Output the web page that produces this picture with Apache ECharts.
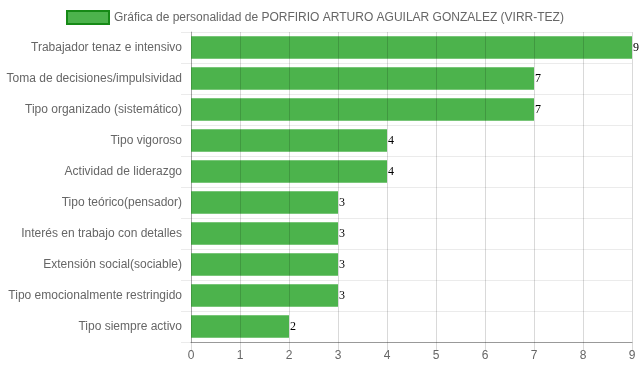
<!DOCTYPE html>
<html>
<head>
<meta charset="utf-8">
<script src="https://cdn.jsdelivr.net/npm/echarts@6/dist/echarts.min.js"></script>
<style>html,body{margin:0;padding:0;background:#fff}#c{width:639px;height:372px}</style>
</head>
<body>
<div id="c"></div>
<script>
const categories = [
  "Trabajador tenaz e intensivo",
  "Toma de decisiones/impulsividad",
  "Tipo organizado (sistemático)",
  "Tipo vigoroso",
  "Actividad de liderazgo",
  "Tipo teórico(pensador)",
  "Interés en trabajo con detalles",
  "Extensión social(sociable)",
  "Tipo emocionalmente restringido",
  "Tipo siempre activo"
];
const values = [9, 7, 7, 4, 4, 3, 3, 3, 3, 2];
const seriesName = "Gráfica de personalidad de PORFIRIO ARTURO AGUILAR GONZALEZ (VIRR-TEZ)";
const xTicks = { min: 0, max: 9, interval: 1 };

const chart = echarts.init(document.getElementById('c'), null, { renderer: 'canvas' });
const font = "'Liberation Sans', Arial, Helvetica, sans-serif";
chart.setOption({
  animation: false,
  textStyle: { fontFamily: font },
  legend: {
    top: 10,
    left: 66,
    padding: 0,
    itemWidth: 42,
    itemHeight: 13,
    itemGap: 10,
    itemStyle: { color: '#4cb34c', borderColor: '#168a16', borderWidth: 2 },
    textStyle: { color: '#666', fontSize: 12, fontFamily: font },
    data: [{ name: seriesName, icon: 'rect' }]
  },
  grid: { left: 191, right: 7, top: 32, bottom: 30, containLabel: false },
  xAxis: {
    type: 'value',
    min: xTicks.min, max: xTicks.max, interval: xTicks.interval,
    z: 10,
    axisLine: { show: true, lineStyle: { color: 'rgba(0,0,0,0.35)' } },
    axisTick: { show: true, length: 8, lineStyle: { color: 'rgba(0,0,0,0.15)' } },
    axisLabel: { color: '#666', fontSize: 12, margin: 8, fontFamily: font },
    splitLine: { show: true, lineStyle: { color: 'rgba(0,0,0,0.15)' } }
  },
  yAxis: {
    type: 'category',
    inverse: true,
    data: categories,
    axisLine: { show: true, lineStyle: { color: 'rgba(0,0,0,0.25)' } },
    axisTick: { show: true, length: 10, lineStyle: { color: 'rgba(0,0,0,0.08)' } },
    axisLabel: { color: '#666', fontSize: 12, margin: 9, fontFamily: font },
    splitLine: { show: true, lineStyle: { color: 'rgba(0,0,0,0.08)' } }
  },
  series: [{
    name: seriesName,
    type: 'bar',
    data: values,
    barCategoryGap: '28%',
    itemStyle: { color: '#4cb34c' },
    label: {
      show: true,
      position: 'right',
      distance: 1,
      color: '#000',
      fontSize: 12,
      fontFamily: "'Liberation Serif', 'Times New Roman', serif"
    }
  }]
});
</script>
</body>
</html>
